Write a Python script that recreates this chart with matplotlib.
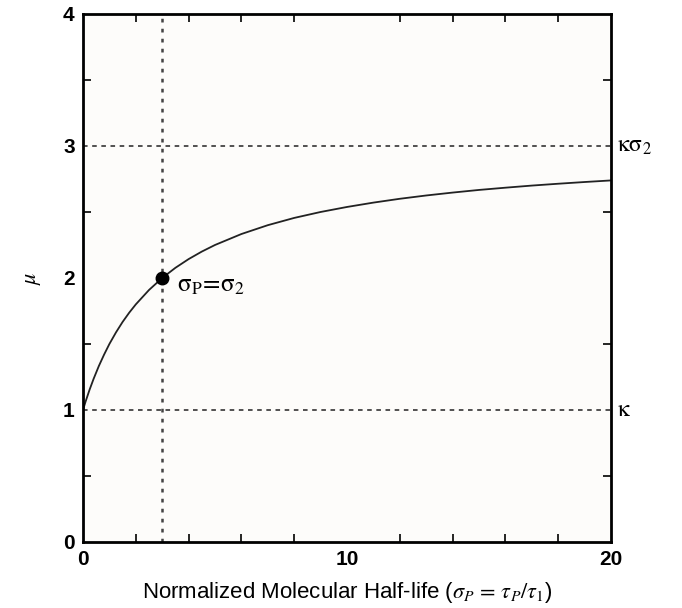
import numpy as np
import matplotlib
matplotlib.use("Agg")
import matplotlib.pyplot as plt
from matplotlib.ticker import MultipleLocator

# curve values
sigma_p = [0, 0.1, 0.25, 0.4, 0.6, 0.8, 1, 1.25, 1.5, 1.75, 2, 2.5, 3, 3.5, 4, 4.5,
           5, 6, 7, 8, 9, 10, 11, 12, 13, 14, 15, 16, 17, 18, 19, 20]
mu = [1.0, 1.065, 1.154, 1.235, 1.333, 1.42, 1.5, 1.588, 1.667, 1.737, 1.8, 1.909,
      2.0, 2.077, 2.143, 2.2, 2.25, 2.333, 2.4, 2.455, 2.5, 2.538, 2.571, 2.6,
      2.625, 2.647, 2.667, 2.684, 2.7, 2.714, 2.727, 2.739]

# reference lines
kappa = 1
kappa_sigma2 = 3
sigma_star = 3
mu_star = 2

plt.rcParams["font.family"] = ["Liberation Sans", "DejaVu Sans"]
plt.rcParams["mathtext.fontset"] = "stix"

fig = plt.figure(figsize=(6.82, 6.08), dpi=100)
ax = fig.add_axes([0.1217, 0.1086, 0.7742, 0.8684])
ax.set_facecolor("#fdfcfa")

ax.plot(sigma_p, mu, color="#222222", linewidth=1.3)
ax.axhline(kappa, color="#222222", linestyle=(0, (3, 3)), linewidth=1.1)
ax.axhline(kappa_sigma2, color="#222222", linestyle=(0, (3, 3)), linewidth=1.1)
ax.axvline(sigma_star, color="#444444", linestyle=(0, (1.5, 2.5)), linewidth=1.8)
ax.plot([sigma_star], [mu_star], "o", color="black", markersize=9, zorder=5)

ax.text(sigma_star + 0.55, mu_star - 0.05, r"$\mathrm{\sigma_P\!=\!\sigma_2}$",
        fontsize=18, ha="left", va="center")

ax.text(1.012, kappa_sigma2, r"$\mathrm{\kappa\sigma_2}$", transform=ax.get_yaxis_transform(),
        fontsize=17, ha="left", va="center")
ax.text(1.012, kappa, r"$\mathrm{\kappa}$", transform=ax.get_yaxis_transform(),
        fontsize=17, ha="left", va="center")

ax.set_xlim(0, 20)
ax.set_ylim(0, 4)
ax.xaxis.set_major_locator(MultipleLocator(10))
ax.xaxis.set_minor_locator(MultipleLocator(2))
ax.yaxis.set_major_locator(MultipleLocator(1))
ax.yaxis.set_minor_locator(MultipleLocator(0.5))
ax.tick_params(which="both", direction="in", top=True, right=True, width=1.2)
ax.tick_params(which="major", length=0, labelsize=15, pad=6)
ax.tick_params(which="minor", length=6)
for lab in ax.get_xticklabels() + ax.get_yticklabels():
    lab.set_fontweight("bold")
for s in ax.spines.values():
    s.set_linewidth(2)

ax.set_xlabel(r"Normalized Molecular Half-life ($\sigma_P\, =\, \tau_P/\tau_1$)", fontsize=16, labelpad=8)
ax.set_ylabel(r"$\mu$", fontsize=16, labelpad=14)

fig.savefig("out.png", dpi=100)
